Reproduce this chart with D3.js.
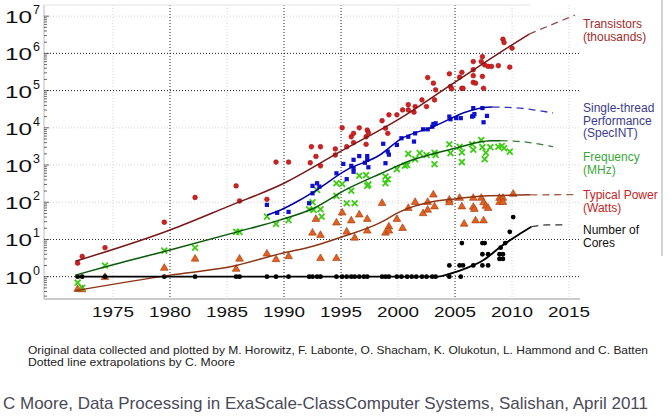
<!DOCTYPE html>
<html>
<head>
<meta charset="utf-8">
<script src="https://cdn.jsdelivr.net/npm/d3@7"></script>
<style>
  body { margin: 0; background: #fff; }
  text { font-family: "Liberation Sans", Arial, sans-serif; }
</style>
</head>
<body>
<div id="chart"></div>
<script>
// define svg area
var svgWidth = 670;
var svgHeight = 416;

// tick values
var yearTicks = [1975, 1980, 1985, 1990, 1995, 2000, 2005, 2010, 2015];
var decadeTicks = [1, 10, 100, 1e3, 1e4, 1e5, 1e6, 1e7];
var darkYears = [1980, 1990, 1995, 2005];
var darkDecades = [1, 10, 1e5, 1e6];

// scatter data: [year, value]
var transistors = [
  [1971.9, 2.3], [1972.3, 3.5], [1974.3, 6], [1979.5, 29], [1982.2, 134], [1985.8, 275],
  [1986.1, 108], [1988.5, 120], [1989.3, 1200], [1990.4, 1200], [1992.4, 3100], [1993.2, 3100],
  [1992.8, 1700], [1992.3, 1150], [1993.2, 950], [1994.5, 2700], [1994.5, 1860], [1995.1, 10000],
  [1995.5, 3100], [1995.9, 5750], [1996.1, 7100], [1996.1, 4000], [1996.6, 10000], [1997.3, 8700],
  [1997.4, 7400], [1997.2, 5750], [1997.2, 3600], [1998.6, 15500], [1998.9, 9800], [1999.1, 7100],
  [1999.2, 22400], [1999.9, 22400], [2000.4, 30200], [2000.9, 30200], [2000.9, 41700], [2001.4, 26300],
  [2001.5, 37200], [2002.1, 56200], [2002.5, 37200], [2002.6, 224000], [2003.1, 158000], [2003.3, 105000],
  [2003.2, 56200], [2004.5, 282000], [2004.6, 129000], [2004.7, 112000], [2005.4, 229000], [2005.6, 309000],
  [2005.6, 115000], [2005.7, 115000], [2006.6, 603000], [2006.6, 363000], [2006.6, 251000], [2006.6, 166000],
  [2006.8, 158000], [2007.4, 813000], [2007.3, 603000], [2007.4, 240000], [2007.5, 115000], [2007.6, 490000],
  [2007.9, 447000], [2008.2, 447000], [2008.8, 468000], [2009.2, 2400000], [2009.3, 1950000], [2009.8, 427000],
  [2010.0, 1380000]
];

var performance = [
  [1988.5, 85], [1989.4, 52], [1990.4, 55], [1992.2, 94], [1992.5, 174], [1992.5, 275], [1992.9, 324],
  [1993.1, 263], [1994.6, 600], [1995.5, 417], [1995.2, 1070], [1995.9, 950], [1996.1, 813], [1996.1, 660],
  [1996.6, 1740], [1996.1, 1380], [1997.3, 1740], [1997.3, 1380], [1997.1, 1150], [1997.4, 870],
  [1998.9, 1120], [1999.1, 2290], [1999.2, 1900], [1998.7, 3720], [1999.9, 3470], [2000.9, 5750],
  [2000.3, 5250], [2001.4, 4270], [2001.5, 7100], [2002.2, 9100], [2002.6, 9100], [2003.0, 10700],
  [2003.1, 12600], [2003.3, 13200], [2004.5, 20000], [2004.6, 17000], [2005.1, 18200], [2005.5, 18200],
  [2006.5, 20000], [2006.6, 20900], [2006.7, 23400], [2006.6, 33900], [2007.4, 33900], [2007.5, 14100],
  [2007.8, 20900]
];

var frequency = [
  [1971.9, 0.69], [1972.3, 0.5], [1974.3, 2], [1979.5, 5], [1982.2, 6], [1985.8, 16], [1986.1, 16],
  [1988.5, 41], [1989.3, 26], [1990.4, 33], [1992.2, 65], [1992.6, 62], [1992.5, 100], [1993.2, 65],
  [1993.3, 41], [1992.9, 214], [1994.6, 324], [1994.6, 148], [1995.1, 309], [1995.5, 94], [1996.2, 94],
  [1995.9, 204], [1996.6, 513], [1997.2, 537], [1997.3, 275], [1997.4, 302], [1998.9, 490], [1998.9, 324],
  [1999.1, 417], [1999.9, 776], [2000.8, 1000], [2000.9, 2000], [2000.6, 955], [2001.5, 1440], [2001.9, 2090],
  [2002.5, 1860], [2003.2, 2140], [2003.2, 1050], [2003.3, 1860], [2004.5, 3630], [2004.6, 2090],
  [2005.4, 3090], [2005.6, 2190], [2005.6, 1200], [2006.5, 3630], [2006.6, 2570], [2007.3, 4680],
  [2007.4, 3020], [2007.6, 1440], [2007.7, 2140], [2008.1, 3020], [2008.8, 3090], [2009.1, 3240],
  [2009.3, 2820], [2009.8, 2290]
];

var power = [
  [1971.9, 0.46], [1972.3, 0.45], [1974.3, 0.96], [1979.5, 1.7], [1982.2, 3], [1985.8, 1.6], [1986.1, 3],
  [1988.5, 4.1], [1989.3, 2.9], [1990.4, 3.5], [1992.5, 15], [1992.8, 35], [1993.2, 13], [1993.2, 3.1],
  [1994.6, 28], [1994.6, 3.1], [1995.1, 52], [1995.5, 16], [1995.9, 32], [1996.2, 11], [1996.6, 46],
  [1997.3, 35], [1997.3, 17], [1998.6, 94], [1998.9, 15], [1999.2, 22], [1999.2, 17], [2000.4, 20],
  [1999.9, 35], [2000.9, 69], [2001.5, 100], [2002.2, 50], [2002.6, 100], [2002.6, 62], [2003.1, 158],
  [2003.2, 76], [2004.5, 115], [2004.5, 98], [2005.4, 129], [2005.6, 76], [2005.8, 26], [2006.6, 129],
  [2006.6, 74], [2006.7, 65], [2006.8, 32], [2007.3, 129], [2007.5, 98], [2007.7, 79], [2007.9, 69],
  [2007.5, 32], [2008.9, 129], [2009.2, 129], [2008.9, 100], [2009.2, 100], [2010.1, 166]
];

var cores = [
  [1971.9, 1], [1972.3, 1], [1974.3, 1], [1979.5, 1], [1982.2, 1], [1985.8, 1], [1986.1, 1], [1988.5, 1],
  [1989.3, 1], [1990.4, 1], [1992.2, 1], [1992.5, 1], [1992.9, 1], [1993.2, 1], [1994.6, 1], [1995.1, 1],
  [1995.5, 1], [1995.9, 1], [1996.2, 1], [1996.6, 1], [1997.0, 1], [1997.3, 1], [1998.6, 1], [1998.9, 1],
  [1999.2, 1], [1999.9, 1], [2000.3, 1], [2000.8, 1], [2001.2, 1], [2001.6, 1], [2002.1, 1], [2002.5, 1],
  [2003.0, 1], [2003.3, 1], [2004.5, 1], [2005.5, 1], [2004.5, 2], [2005.4, 2], [2005.7, 2], [2006.6, 2],
  [2007.4, 2], [2007.9, 2], [2005.6, 8], [2007.4, 8], [2007.6, 8], [2007.4, 4], [2007.9, 4], [2008.9, 4],
  [2009.2, 4], [2008.9, 3], [2009.2, 3], [2009.4, 8], [2009.0, 6], [2009.8, 16], [2010.1, 40]
];

// trend lines (solid part) and extrapolations (dashed part)
var transistorTrend = [[1971.7, 2.6], [1980, 18], [1985, 75], [1990, 324], [1995, 2350], [2000, 16600],
  [2005, 170000], [2010, 1700000], [2011.5, 3300000]];
var transistorExtra = [[2011.5, 3300000], [2015.5, 10700000]];
var perfTrend = [[1988.5, 45], [1989.6, 60], [1991.4, 115], [1992.6, 190], [1995.5, 740], [1998.4, 1860],
  [2000.2, 4900], [2003.1, 10700], [2006.1, 27500], [2007.8, 35600], [2008.3, 36000]];
var perfExtra = [[2008.3, 36000], [2010, 35000], [2013.6, 25000]];
var freqTrend = [[1971.7, 1.1], [1975, 2.1], [1980, 5.2], [1985.9, 16], [1989.6, 33], [1992.6, 69],
  [1995.5, 224], [1998.4, 575], [2001.3, 1380], [2005, 2820], [2008.1, 4470], [2009, 4500]];
var freqExtra = [[2009, 4500], [2011, 4200], [2013.6, 3100]];
var powerTrend = [[1971.7, 0.42], [1980, 1.1], [1985.5, 1.9], [1989.6, 4.1], [1992.6, 6.7], [1995, 11.5],
  [1998.4, 28], [2000.2, 56], [2003.1, 104], [2005, 123], [2007.5, 148], [2011.6, 158]];
var powerExtra = [[2011.6, 158], [2015.5, 160]];
var coresTrend = [[1971.7, 1], [2003.5, 1], [2004.5, 1.18], [2006, 1.7], [2007.5, 2.8], [2009, 6.4],
  [2010.5, 13], [2011.7, 22]];
var coresExtra = [[2011.7, 22], [2013, 24.5], [2014.8, 24.5]];

// legend labels
var legendLabels = [
  { lines: ["Transistors", "(thousands)"], y: 28, color: "#a52a2a" },
  { lines: ["Single-thread", "Performance", "(SpecINT)"], y: 112, color: "#3c3c8c" },
  { lines: ["Frequency", "(MHz)"], y: 161, color: "#38a838" },
  { lines: ["Typical Power", "(Watts)"], y: 199, color: "#c42424" },
  { lines: ["Number of", "Cores"], y: 234, color: "#111" }
];

var svg = d3.select("#chart")
  .append("svg")
  .attr("width", svgWidth)
  .attr("height", svgHeight);

svg.append("rect").attr("width", svgWidth).attr("height", svgHeight).attr("fill", "#fff");

// scales
var xScale = d3.scaleLinear().domain([1968.95, 2015.96]).range([44, 580]);
var yScale = d3.scaleLog().domain([Math.pow(10, -0.6), Math.pow(10, 7.3)]).range([299, 5]);

// grid
var grid = svg.append("g");
grid.selectAll(".vgrid")
  .data(yearTicks)
  .enter()
  .append("line")
  .attr("x1", d => xScale(d)).attr("x2", d => xScale(d))
  .attr("y1", 5).attr("y2", 299)
  .attr("stroke", d => darkYears.indexOf(d) >= 0 ? "#222" : "#d4d4d4")
  .attr("stroke-width", 1)
  .attr("stroke-dasharray", "1,2");

grid.selectAll(".hgrid")
  .data(decadeTicks)
  .enter()
  .append("line")
  .attr("x1", 44).attr("x2", 580)
  .attr("y1", d => yScale(d)).attr("y2", d => yScale(d))
  .attr("stroke", d => darkDecades.indexOf(d) >= 0 ? "#222" : "#d4d4d4")
  .attr("stroke-width", 1)
  .attr("stroke-dasharray", "1,2");

// frame
svg.append("line").attr("x1", 44).attr("x2", 530).attr("y1", 5).attr("y2", 5).attr("stroke", "#e4e4e4");
svg.append("line").attr("x1", 44).attr("x2", 44).attr("y1", 5).attr("y2", 299).attr("stroke", "#bbb");
svg.append("line").attr("x1", 44).attr("x2", 580).attr("y1", 299).attr("y2", 299).attr("stroke", "#999");
svg.append("line").attr("x1", 662).attr("x2", 662).attr("y1", 0).attr("y2", 256).attr("stroke", "#aaa");

// minor log ticks on the left axis
var minorTicks = [];
for (var k = -1; k <= 7; k++) {
  for (var m = 1; m <= 9; m++) {
    var v = m * Math.pow(10, k);
    if (v >= yScale.domain()[0] && v <= yScale.domain()[1]) minorTicks.push({ v: v, major: m === 1 });
  }
}
svg.selectAll(".ytick")
  .data(minorTicks)
  .enter()
  .append("line")
  .attr("x1", 44).attr("x2", d => d.major ? 49 : 47)
  .attr("y1", d => yScale(d.v)).attr("y2", d => yScale(d.v))
  .attr("stroke", "#444")
  .attr("stroke-width", 0.8);

// y labels 10^k
var yLabels = svg.append("g");
yLabels.selectAll(".ten")
  .data(decadeTicks)
  .enter()
  .append("text")
  .attr("x", 5)
  .attr("y", d => yScale(d) + 7)
  .attr("font-family", "DejaVu Sans")
  .attr("font-size", 17)
  .attr("textLength", 27)
  .attr("lengthAdjust", "spacingAndGlyphs")
  .attr("fill", "#111")
  .text("10");
yLabels.selectAll(".pow")
  .data(decadeTicks)
  .enter()
  .append("text")
  .attr("x", 33)
  .attr("y", d => yScale(d) - 2)
  .attr("font-family", "DejaVu Sans")
  .attr("font-size", 12.5)
  .attr("fill", "#111")
  .text(d => Math.round(Math.log10(d)));

// x labels
svg.selectAll(".xlabel")
  .data(yearTicks)
  .enter()
  .append("text")
  .attr("x", d => xScale(d) - 21)
  .attr("y", 317)
  .attr("font-family", "DejaVu Sans")
  .attr("font-size", 15)
  .attr("textLength", 42)
  .attr("lengthAdjust", "spacingAndGlyphs")
  .attr("fill", "#111")
  .text(d => d);

// markers
var marks = svg.append("g");
var triangle = d3.symbol().type(d3.symbolTriangle).size(26);
var cross = d3.symbol().type(d3.symbolTimes).size(24);
var square = d3.symbol().type(d3.symbolSquare).size(18);

marks.selectAll(".power")
  .data(power)
  .enter()
  .append("path")
  .attr("d", triangle)
  .attr("transform", d => `translate(${xScale(d[0])},${yScale(d[1])})`)
  .attr("fill", "#e2601c")
  .attr("stroke", "#9a3a14")
  .attr("stroke-width", 0.6);

marks.selectAll(".freq")
  .data(frequency)
  .enter()
  .append("path")
  .attr("d", cross)
  .attr("transform", d => `translate(${xScale(d[0])},${yScale(d[1])})`)
  .attr("fill", "none")
  .attr("stroke", "#3ccc14")
  .attr("stroke-width", 1.8);

marks.selectAll(".perf")
  .data(performance)
  .enter()
  .append("path")
  .attr("d", square)
  .attr("transform", d => `translate(${xScale(d[0])},${yScale(d[1])})`)
  .attr("fill", "#1010d0");

marks.selectAll(".trans")
  .data(transistors)
  .enter()
  .append("circle")
  .attr("cx", d => xScale(d[0]))
  .attr("cy", d => yScale(d[1]))
  .attr("r", 2.4)
  .attr("fill", "#d42020")
  .attr("stroke", "#8a1010")
  .attr("stroke-width", 0.5);

marks.selectAll(".cores")
  .data(cores)
  .enter()
  .append("circle")
  .attr("cx", d => xScale(d[0]))
  .attr("cy", d => yScale(d[1]))
  .attr("r", 2.4)
  .attr("fill", "#000");

// trend lines
var line = d3.line()
  .x(d => xScale(d[0]))
  .y(d => yScale(d[1]))
  .curve(d3.curveMonotoneX);

var trends = [
  { solid: powerTrend, dashed: powerExtra, color: "#8e3414", width: 1.5 },
  { solid: freqTrend, dashed: freqExtra, color: "#0a5a0a", width: 1.5 },
  { solid: perfTrend, dashed: perfExtra, color: "#0000a8", width: 1.5 },
  { solid: transistorTrend, dashed: transistorExtra, color: "#7a1616", width: 1.5 },
  { solid: coresTrend, dashed: coresExtra, color: "#000", width: 1.9 }
];

trends.forEach(function(t) {
  svg.append("path")
    .attr("d", line(t.solid))
    .attr("fill", "none")
    .attr("stroke", t.color)
    .attr("stroke-width", t.width);
  svg.append("path")
    .attr("d", line(t.dashed))
    .attr("fill", "none")
    .attr("stroke", t.color)
    .attr("stroke-opacity", 0.8)
    .attr("stroke-width", 1.3)
    .attr("stroke-dasharray", "7,5");
});

// legend
legendLabels.forEach(function(l) {
  var txt = svg.append("text")
    .attr("x", 583)
    .attr("y", l.y)
    .attr("font-size", 12)
    .attr("fill", l.color);
  l.lines.forEach(function(s, i) {
    txt.append("tspan").attr("x", 583).attr("dy", i === 0 ? 0 : 12.6).text(s);
  });
});

// notes
svg.append("text")
  .attr("x", 28).attr("y", 354)
  .attr("font-size", 10.5)
  .attr("textLength", 620)
  .attr("lengthAdjust", "spacingAndGlyphs")
  .attr("fill", "#222")
  .text("Original data collected and plotted by M. Horowitz, F. Labonte, O. Shacham, K. Olukotun, L. Hammond and C. Batten");
svg.append("text")
  .attr("x", 28).attr("y", 366)
  .attr("font-size", 10.5)
  .attr("textLength", 207)
  .attr("lengthAdjust", "spacingAndGlyphs")
  .attr("fill", "#222")
  .text("Dotted line extrapolations by C. Moore");
svg.append("text")
  .attr("x", 3).attr("y", 409)
  .attr("font-size", 17)
  .attr("textLength", 645)
  .attr("lengthAdjust", "spacingAndGlyphs")
  .attr("fill", "#4a4a58")
  .text("C Moore, Data Processing in ExaScale-ClassComputer Systems, Salishan, April 2011");
</script>
</body>
</html>
